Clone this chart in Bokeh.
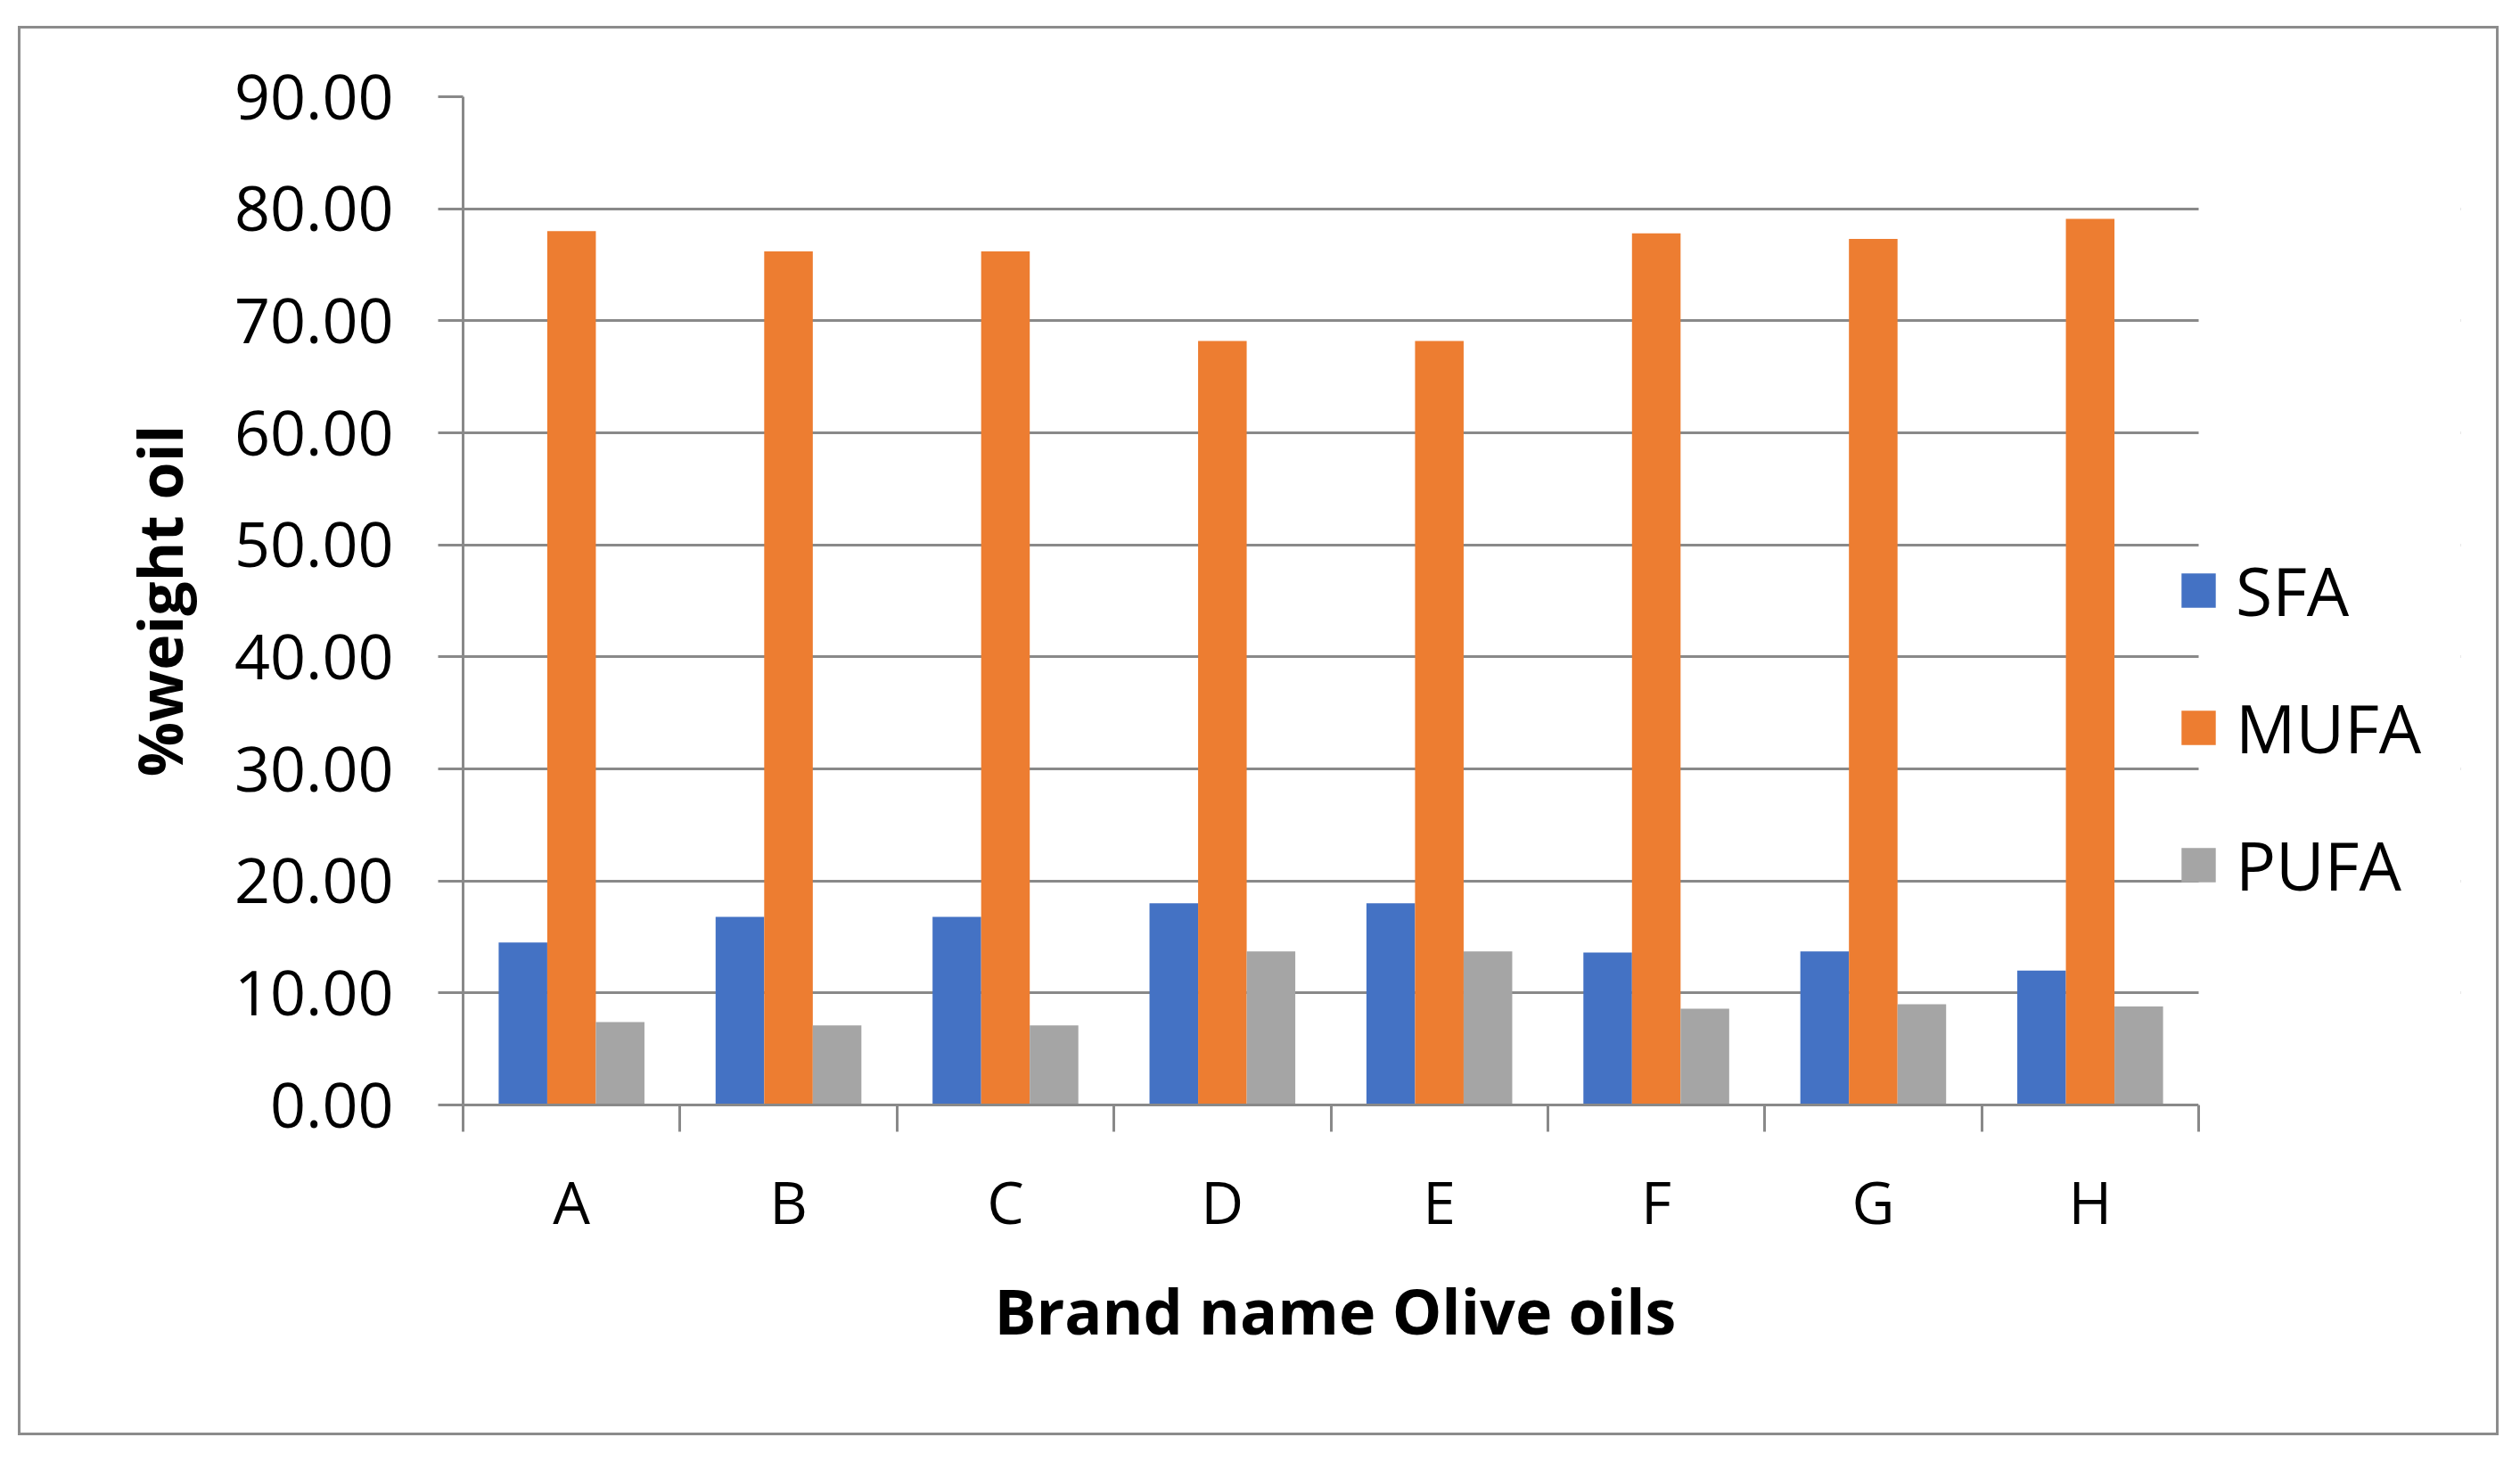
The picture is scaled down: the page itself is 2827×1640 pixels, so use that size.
from bokeh.plotting import figure
from bokeh.models import (Range1d, FixedTicker, NumeralTickFormatter, Legend,
                          LegendItem, ColumnDataSource, BoxAnnotation, Title)
from bokeh.embed import file_html
from bokeh.resources import INLINE

# ---- data ----
brands = ["A", "B", "C", "D", "E", "F", "G", "H"]
sfa = [14.5, 16.8, 16.8, 18.0, 18.0, 13.6, 13.7, 12.0]
mufa = [78.0, 76.2, 76.2, 68.2, 68.2, 77.8, 77.3, 79.1]
pufa = [7.4, 7.1, 7.1, 13.7, 13.7, 8.6, 9.0, 8.8]
series_names = ["SFA", "MUFA", "PUFA"]
y_ticks = [0, 10, 20, 30, 40, 50, 60, 70, 80, 90]
x_title = "Brand name Olive oils"
y_title = "%weight oil"

colors = ["#4472C4", "#ED7D31", "#A5A5A5"]
grid_col = "#898989"
FONT = "Open Sans"

n_cat = len(brands)
centers = [i + 0.5 for i in range(n_cat)]
bar_w = 0.224
offsets = [-bar_w, 0.0, bar_w]

# layout (pixels)
W, H = 2777, 1575
ML, MR, MT, MB = 496, 40, 76, 368
cat_px = 1947 / n_cat                      # width of one category in pixels
frame_w = W - ML - MR
x_end = frame_w / cat_px                   # range extends past the categories for the legend area

p = figure(width=W, height=H,
           x_range=Range1d(0, x_end), y_range=Range1d(0, 90),
           output_backend="svg", toolbar_location=None,
           min_border_left=ML, min_border_right=MR,
           min_border_top=MT, min_border_bottom=MB)
p.margin = (32, 0, 0, 23)
p.styles = {"outline": "3px solid #8c8c8c", "outline-offset": "0px"}
p.outline_line_color = None
p.background_fill_color = "white"
p.border_fill_color = "white"

renderers = []
for vals, off, col in zip([sfa, mufa, pufa], offsets, colors):
    src = ColumnDataSource(dict(x=[c + off for c in centers], top=vals))
    r = p.vbar(x="x", top="top", width=bar_w, bottom=0, source=src,
               fill_color=col, line_color=None)
    renderers.append(r)

# grid
p.xgrid.grid_line_color = None
p.ygrid.grid_line_color = grid_col
p.ygrid.grid_line_width = 3
p.ygrid.ticker = FixedTicker(ticks=y_ticks)

# white mask: gridlines stop at the end of the category axis
p.add_layout(BoxAnnotation(left=n_cat, fill_color="white", fill_alpha=1.0,
                           line_color=None))

# y axis
ya = p.yaxis[0]
ya.ticker = FixedTicker(ticks=y_ticks, minor_ticks=[])
ya.formatter = NumeralTickFormatter(format="0.00")
ya.axis_line_color = grid_col
ya.axis_line_width = 3
ya.major_tick_line_color = grid_col
ya.major_tick_line_width = 3
ya.major_tick_out = 28
ya.major_tick_in = 0
ya.minor_tick_line_color = None
ya.major_label_text_font = FONT
ya.major_label_text_font_size = "70px"
ya.major_label_text_color = "black"
ya.major_label_standoff = 50
ya.axis_label = y_title
ya.axis_label_text_font = FONT
ya.axis_label_text_font_style = "bold"
ya.axis_label_text_font_size = "68px"
ya.axis_label_text_color = "black"
ya.axis_label_standoff = 35

# x axis
xa = p.xaxis[0]
xa.bounds = (0, n_cat)
xa.ticker = FixedTicker(ticks=centers, minor_ticks=list(range(n_cat + 1)))
xa.major_label_overrides = {c: b for c, b in zip(centers, brands)}
xa.axis_line_color = grid_col
xa.axis_line_width = 3
xa.major_tick_line_color = None
xa.major_tick_out = 0
xa.major_tick_in = 0
xa.minor_tick_line_color = grid_col
xa.minor_tick_line_width = 3
xa.minor_tick_out = 30
xa.minor_tick_in = 0
xa.major_label_text_font = FONT
xa.major_label_text_font_size = "66px"
xa.major_label_text_color = "black"
xa.major_label_standoff = 32

# x-axis title, centred under the category axis (not the whole frame)
p.add_layout(Title(text=x_title, align="left", offset=596, standoff=50,
                   text_font=FONT, text_font_style="bold",
                   text_font_size="70px", text_color="black"), "below")

legend = Legend(items=[LegendItem(label=n, renderers=[r])
                       for n, r in zip(series_names, renderers)],
                location=(1923, 218), orientation="vertical",
                glyph_width=48, glyph_height=48, label_height=48,
                spacing=52, padding=0, margin=0, label_standoff=18,
                border_line_color=None, background_fill_alpha=0,
                label_text_font=FONT, label_text_font_size="75px",
                label_text_color="black")
p.add_layout(legend)

open("out.html", "w").write(file_html(p, INLINE))
